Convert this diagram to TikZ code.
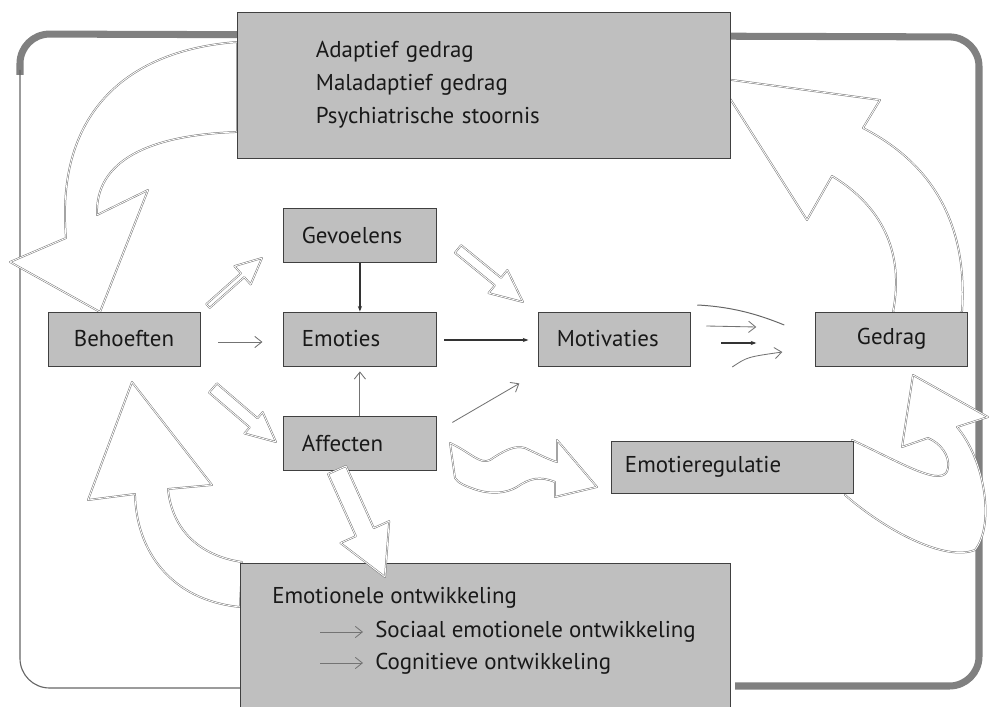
\documentclass[tikz,border=0pt]{standalone}
\usepackage{fontspec}
\setmainfont{PT Sans}
\usetikzlibrary{arrows.meta,positioning,calc}

% hollow straight arrow: tail, tip, shaft half width, head half width, head length
\newcommand\hollowarrow[5]{%
  \coordinate (ha-base) at ($(#2)!#5!(#1)$);
  \draw[hollow] ($(#1)!#3!90:(#2)$) -- ($(ha-base)!#3!90:(#2)$) -- ($(ha-base)!#4!90:(#2)$) -- (#2)
    -- ($(ha-base)!#4!-90:(#2)$) -- ($(ha-base)!#3!-90:(#2)$) -- ($(#1)!#3!-90:(#2)$) -- cycle;}

\begin{document}
\begin{tikzpicture}[
  x=0.025cm, y=-0.025cm,
  every node/.style={font=\fontsize{16.3}{23.4}\selectfont, text=black!90},
  box/.style={draw=black!75, fill=black!25, line width=0.6pt, minimum height=1.35cm,
    text width=2.9cm, inner xsep=0.45cm, align=left},
  frame/.style={draw=black!50, line width=5pt, rounded corners=21pt},
  thinframe/.style={draw=black!60, line width=0.8pt, rounded corners=21pt},
  hollow/.style={draw=black!55, line width=0.35pt, double=white, double distance=0.6pt,
    fill=white, line join=round},
  sk/.style={draw=black!55, line width=0.6pt, -{Straight Barb[length=5pt,width=8pt]}},
  dk/.style={draw=black!80, line width=0.9pt, -{Stealth[length=4pt,width=3pt]}}
]
\useasboundingbox (0,0) rectangle (989,707);

% outer frame
\draw[frame] (20,75) -- (20,34) -- (979,37) -- (979,686) -- (735,686);
\draw[thinframe] (240,688) -- (20,688) -- (20,70);

% big curved arrows
\draw[hollow] (237,42) .. controls (130,50) and (55,110) .. (66,238) -- (10,262) -- (100,312)
  -- (148,190) -- (97,215) .. controls (95,160) and (150,135) .. (237,132) -- cycle;
\draw[hollow] (893,312) .. controls (905,250) and (880,205) .. (832,176) -- (807,220) -- (717,78)
  -- (880,100) -- (863,128) .. controls (945,170) and (967,240) .. (962,312)
  .. controls (940,324) and (910,322) .. (893,312) -- cycle;
\draw[hollow] (240,607) .. controls (170,600) and (136,550) .. (135,494) -- (88,500) -- (132,382)
  -- (212,485) -- (168,489) .. controls (172,530) and (200,556) .. (242,562) -- cycle;
\draw[hollow] (852,440) .. controls (900,462) and (945,490) .. (948,468)
  .. controls (950,455) and (940,443) .. (928,438) -- (902,447) -- (913,375) -- (988,417)
  -- (957,427) .. controls (985,460) and (995,525) .. (975,550)
  .. controls (945,562) and (885,530) .. (845,495) -- cycle;
% wavy arrow
\draw[hollow] (450,443) .. controls (470,452) and (480,465) .. (490,460)
  .. controls (505,450) and (515,445) .. (525,448) .. controls (540,455) and (550,460) .. (557,462)
  -- (557,440) -- (597,487) -- (555,497) -- (555,482)
  .. controls (540,476) and (530,478) .. (517,487) .. controls (505,494) and (490,494) .. (477,490)
  .. controls (465,486) and (458,483) .. (455,478) -- cycle;

% boxes
\node[box, align=center] (behoeften) at (124,339) {Behoeften};
\node[box, right=2.075cm of behoeften] (emoties) {Emoties};
\node[box, above=1.225cm of emoties] (gevoelens) {Gevoelens};
\node[box, below=1.25cm of emoties] (affecten) {Affecten};
\node[box, right=2.55cm of emoties] (motivaties) {Motivaties};
\node[box, align=center, right=3.1cm of motivaties] (gedrag) {Gedrag};
\node[box, text width=5.35cm, inner xsep=0.35cm, minimum height=1.3cm] (regulatie) at (732,467) {Emotieregulatie};
\node[box, text width=8.375cm, inner xsep=1.975cm, minimum height=3.65cm] (uitkomst) at (483.5,85)
  {Adaptief gedrag\\Maladaptief gedrag\\Psychiatrische stoornis};
\node[box, text width=12.25cm, inner xsep=0pt, minimum height=3.65cm] (ontwikkeling) at (485,636) {};
\node[anchor=west, inner sep=0pt] (emoontw) at (272,598) {Emotionele ontwikkeling};
\node[anchor=west, inner sep=0pt] (sociaal) at (375,632) {Sociaal emotionele ontwikkeling};
\node[anchor=west, inner sep=0pt] (cognitief) at (375,664) {Cognitieve ontwikkeling};
\draw[sk] ($(sociaal.west)+(-55,0)$) -- ($(sociaal.west)+(-12,0)$);
\draw[sk] ($(cognitief.west)+(-55,-1)$) -- ($(cognitief.west)+(-12,-1)$);

% hollow straight arrows
\coordinate (bg-tail) at (208,306);
\coordinate (bg-tip) at (262,258);
\hollowarrow{bg-tail}{bg-tip}{1.8pt}{8.7pt}{18.5pt}
\coordinate (ba-tail) at (213,388);
\coordinate (ba-tip) at (276,442);
\hollowarrow{ba-tail}{ba-tip}{4.3pt}{10pt}{21pt}
\coordinate (gm-tail) at (458,249);
\coordinate (gm-tip) at (523,302);
\hollowarrow{gm-tail}{gm-tip}{3.5pt}{10.6pt}{23pt}
\coordinate (ao-tail) at (337,470);
\coordinate (ao-tip) at (385,577);
\hollowarrow{ao-tail}{ao-tip}{7pt}{19pt}{35pt}

% thin connectors
\draw[sk] ($(behoeften.east)+(18,3)$) -- ($(emoties.west)+(-21,3)$);
\draw[dk] (gevoelens) -- (emoties);
\draw[dk] ($(emoties.east)+(8,1)$) -- ($(motivaties.west)+(-10,1)$);
\draw[sk] (affecten) -- ($(emoties.south)+(0,5)$);
\draw[sk] ($(affecten.north east)+(16,6)$) -- ($(motivaties.south west)+(-19,17)$);
\draw[black!60, line width=0.7pt] ($(motivaties.east)+(6,-34)$) .. controls +(40,2) and +(-20,-8) .. ($(gedrag.west)+(-31,-14)$);
\draw[sk] ($(motivaties.east)+(15,-13)$) -- ($(gedrag.west)+(-59,-12)$);
\draw[dk] ($(motivaties.east)+(30,4)$) -- ($(gedrag.west)+(-59,4)$);
\draw[sk] ($(motivaties.east)+(41,28)$) .. controls +(15,-10) .. ($(gedrag.west)+(-33,13)$);
\end{tikzpicture}
\end{document}
